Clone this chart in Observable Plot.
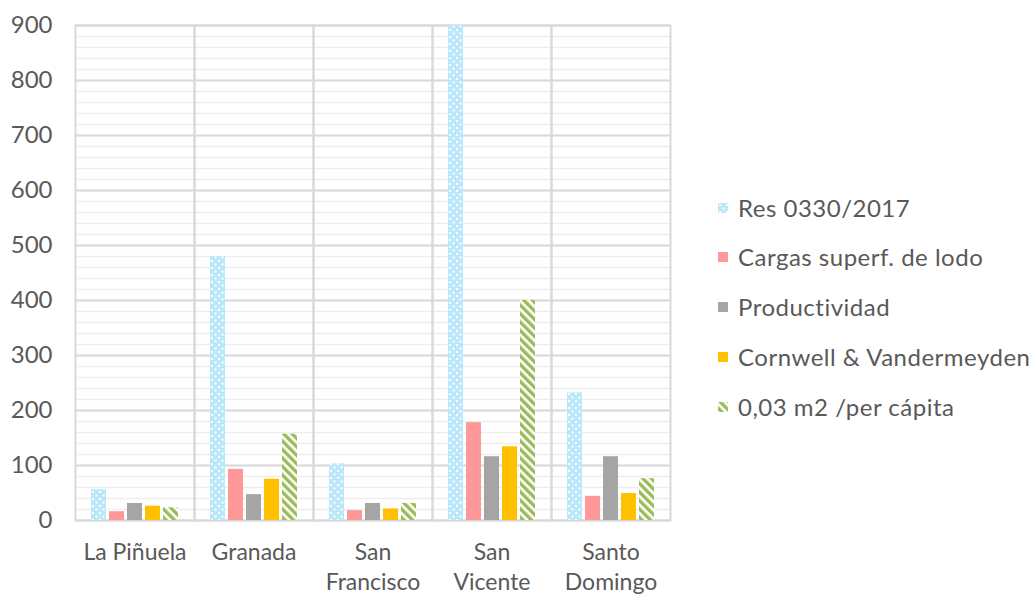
<!DOCTYPE html>
<html>
<head>
<meta charset="utf-8">
<script src="https://cdn.jsdelivr.net/npm/d3@7"></script>
<script src="https://cdn.jsdelivr.net/npm/@observablehq/plot@0.6"></script>
<style>
  html, body { margin: 0; padding: 0; background: #fff; }
  #wrap { position: relative; width: 1034px; height: 598px; font-family: Lato, "Open Sans", sans-serif; color: #595959; }
  #legend { position: absolute; left: 718px; top: 0; }
  .item { position: absolute; left: 0; white-space: nowrap; display: flex; align-items: center; font-size: 24px; letter-spacing: 0.5px; line-height: 1; transform: translateY(-50%); }
  .item svg { margin-right: 10px; }
</style>
</head>
<body>
<div id="wrap"><div id="legend"></div></div>
<script>
// Municipalities (x groups) and their two-line tick labels
const categories = ["La Piñuela", "Granada", "San Francisco", "San Vicente", "Santo Domingo"];
const categoryLabels = ["La Piñuela", "Granada", "San\nFrancisco", "San\nVicente", "Santo\nDomingo"];

// Sizing criteria compared for each municipality
const series = ["Res 0330/2017", "Cargas superf. de lodo", "Productividad", "Cornwell & Vandermeyden", "0,03 m2 /per cápita"];

// Values per criterion, in the order of `categories`
const res0330 = [56, 480, 103, 900, 232];
const cargasLodo = [16, 93, 18, 178, 44];
const productividad = [31, 47, 31, 116, 116];
const cornwell = [26, 75, 21, 134, 49];
const perCapita = [23, 157, 31, 400, 76];

const yTicks = [0, 100, 200, 300, 400, 500, 600, 700, 800, 900];
const yMinorTicks = d3.range(0, 901, 20);

const seriesValues = [res0330, cargasLodo, productividad, cornwell, perCapita];
const fills = ["url(#pat-dots)", "#FF9999", "#A5A5A5", "#FFC000", "url(#pat-stripes)"];

const rows = [];
series.forEach((s, i) => categories.forEach((c, j) => rows.push({cat: c, series: s, value: seriesValues[i][j]})));

// Fill patterns: white confetti on light blue, and green diagonal stripes
function patternDefs() {
  const defs = d3.create("svg:defs");
  const dots = defs.append("pattern").attr("id", "pat-dots").attr("patternUnits", "userSpaceOnUse")
    .attr("width", 7).attr("height", 7);
  dots.append("rect").attr("width", 7).attr("height", 7).attr("fill", "#BAE8FA");
  dots.append("rect").attr("x", 1).attr("y", 1).attr("width", 2).attr("height", 2).attr("fill", "#fff");
  dots.append("rect").attr("x", 4.5).attr("y", 4.5).attr("width", 2).attr("height", 2).attr("fill", "#fff");
  const stripes = defs.append("pattern").attr("id", "pat-stripes").attr("patternUnits", "userSpaceOnUse")
    .attr("width", 6).attr("height", 6).attr("patternTransform", "rotate(-45)");
  stripes.append("rect").attr("width", 6).attr("height", 6).attr("fill", "#fff");
  stripes.append("rect").attr("width", 3.4).attr("height", 6).attr("fill", "#9BBB59");
  return defs.node();
}

const chart = Plot.plot({
  width: 1034,
  height: 598,
  marginLeft: 75,
  marginRight: 364,
  marginTop: 25,
  marginBottom: 78,
  style: {fontFamily: "Lato, 'Open Sans', sans-serif", color: "#595959", background: "transparent"},
  fx: {domain: categories, padding: 0, label: null},
  x: {domain: series, paddingInner: 0.18, paddingOuter: 0.84, axis: null},
  y: {domain: [0, 900], label: null},
  color: {type: "ordinal", domain: series, range: fills},
  marks: [
    patternDefs,
    Plot.gridY({ticks: yMinorTicks, stroke: "#EDEDED", strokeOpacity: 1, strokeWidth: 1.5}),
    Plot.gridY({ticks: yTicks, stroke: "#D9D9D9", strokeOpacity: 1, strokeWidth: 2}),
    Plot.frame({stroke: "#D9D9D9", strokeWidth: 2}),
    Plot.barY(rows, {fx: "cat", x: "series", y: "value", fill: "series"}),
    Plot.axisY({ticks: yTicks, tickSize: 0, tickPadding: 23, fontSize: 24, label: null}),
    Plot.axisFx({anchor: "bottom", tickSize: 0, tickPadding: 18, fontSize: 23, lineHeight: 1.32, label: null,
      tickFormat: (d) => categoryLabels[categories.indexOf(d)]})
  ]
});
document.getElementById("wrap").prepend(chart);

// Legend to the right of the plot
const legendY = [208, 257, 307, 357, 407];
const legend = d3.select("#legend");
series.forEach((s, i) => {
  const item = legend.append("div").attr("class", "item").style("top", legendY[i] + "px");
  const sw = item.append("svg").attr("width", 10).attr("height", 10);
  sw.append("rect").attr("width", 10).attr("height", 10).attr("fill", fills[i]);
  item.append("span").text(s);
});
</script>
</body>
</html>
